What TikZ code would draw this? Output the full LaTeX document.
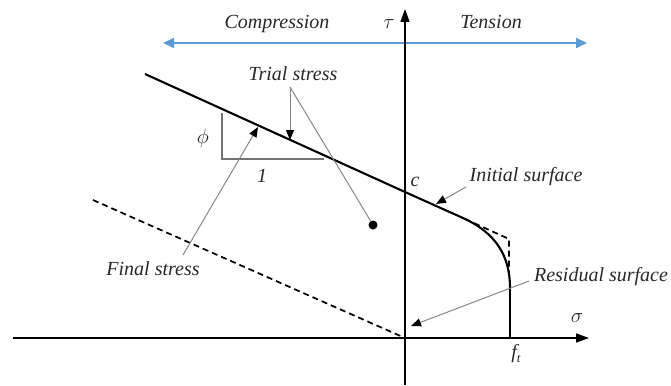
\documentclass[tikz,border=0pt]{standalone}
\usepackage{fontspec}
\setmainfont{Liberation Serif}
\usetikzlibrary{arrows.meta}
\definecolor{bluearrow}{RGB}{91,155,213}
\definecolor{annotgray}{RGB}{135,135,135}
\definecolor{trigray}{RGB}{115,115,115}
\definecolor{txt}{RGB}{40,40,40}
\begin{document}
\begin{tikzpicture}[x=1pt,y=-1pt,
  lbl/.style={font=\fontsize{20}{24}\selectfont\itshape, text=txt, inner sep=0pt},
  axisline/.style={line width=1.6pt, draw=black, -{Triangle[length=13pt,width=9pt]}},
  mainline/.style={line width=2.1pt, draw=black},
  dashline/.style={line width=1.7pt, draw=black, dash pattern=on 6pt off 4pt},
  annot/.style={draw=annotgray, line width=1pt, -{Triangle[length=10pt,width=8pt,color=black]}},
  plainannot/.style={draw=annotgray, line width=1pt},
  slopetri/.style={draw=trigray, line width=1.6pt},
  bluearr/.style={draw=bluearrow, line width=1.9pt, {Triangle[length=11pt,width=10pt]}-{Triangle[length=11pt,width=10pt]}}]
\useasboundingbox (0,0) rectangle (671,385);

% coordinates
\coordinate (sL) at (13,338);
\coordinate (sR) at (589,338);
\coordinate (tB) at (405,385);
\coordinate (tT) at (405,9);
\coordinate (bL) at (163,43);
\coordinate (bR) at (587,43);
\coordinate (mcA) at (145,74);
\coordinate (cpt) at (405,192);
\coordinate (tan) at (463,218);
\coordinate (vtop) at (510,288);
\coordinate (ftpt) at (510,338);
\coordinate (dA) at (465,219);
\coordinate (dC) at (509,239);
\coordinate (dD) at (509,274);
\coordinate (rA) at (93,200);
\coordinate (origin) at (405,338);
\coordinate (triA) at (222,113);
\coordinate (triB) at (222,159);
\coordinate (triC) at (324,159);

% labels
\node[lbl] (compression) at (277,24) {Compression};
\node[lbl] (tension) at (491,22) {Tension};
\node[lbl] (tau) at (389,24) {$\tau$};
\node[lbl] (sigma) at (577,318) {$\sigma$};
\node[lbl] (trial) at (293,74) {Trial stress};
\node[lbl] (final) at (153,269) {Final stress};
\node[lbl] (initial) at (526,177) {Initial surface};
\node[lbl] (residual) at (601,277) {Residual surface};
\node[lbl] (cl) at (415,182) {c};
\node[lbl] (phi) at (203,138) {$\phi$};
\node[lbl] (one) at (262,176) {1};
\node[lbl] (ft) at (516,354) {f\raisebox{-4pt}{\fontsize{13}{13}\selectfont t}};

% blue arrow
\draw[bluearr] (bL) -- (bR);

% axes
\draw[axisline] (sL) -- (sR);
\draw[axisline] (tB) -- (tT);

% slope triangle
\draw[slopetri] (triA) -- (triB) -- (triC);

% residual dashed line
\draw[dashline] (rA) -- (origin);

% dashed corner of initial surface
\draw[dashline] (dA) -- (dC) -- (dD);

% initial surface
\draw[mainline] (mcA) -- (cpt) -- (tan) .. controls (496,233) and (510,256) .. (vtop);
\draw[line width=2.8pt] (510,286) -- (ftpt);

% trial stress point
\node[circle, fill=black, inner sep=0pt, minimum size=9pt] (dot) at (373,225) {};

% annotation lines
\coordinate (trialfoot) at (290,87);
\coordinate (trialtip) at (290,140);
\draw[annot] (trialfoot) -- (trialtip);
\draw[plainannot] (trialfoot) -- (dot);
\coordinate (finalfoot) at (183,255);
\coordinate (finaltip) at (258,127);
\draw[annot] (finalfoot) -- (finaltip);
\coordinate (initfoot) at (466,187);
\coordinate (inittip) at (436,204);
\draw[annot] (initfoot) -- (inittip);
\coordinate (resfoot) at (529,281);
\coordinate (restip) at (411,326);
\draw[annot] (resfoot) -- (restip);
\end{tikzpicture}
\end{document}
